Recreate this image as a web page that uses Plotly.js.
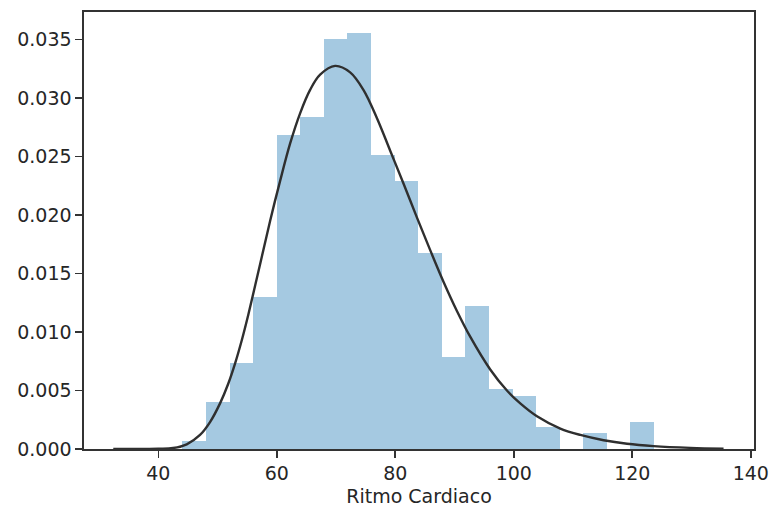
<!DOCTYPE html>
<html>
<head>
<meta charset="utf-8">
<script src="https://cdn.plot.ly/plotly-3.0.1.min.js"></script>
<style>
  html, body { margin: 0; padding: 0; background: #ffffff; }
  #chart { width: 770px; height: 510px; }
</style>
</head>
<body>
<div id="chart"></div>
<script>
// Histogram (density) — left edges of bins and their heights
const binLeft = [44.07, 48.05, 52.03, 56.01, 59.99, 63.97, 67.95, 71.93, 75.91, 79.89,
                 83.87, 87.85, 91.83, 95.81, 99.79, 103.77, 107.75, 111.73, 115.71, 119.69];
const binWidth = 3.98;
const density = [0.0007, 0.00404, 0.00732, 0.01296, 0.02683, 0.02836, 0.03503, 0.03554, 0.02512, 0.02290,
                 0.01672, 0.00783, 0.01224, 0.00510, 0.00455, 0.00185, 0.0, 0.00134, 0.0, 0.00233];

// Fitted density curve
const fitX = [32.4, 40.0, 42.5, 44.8, 47.04, 48.73, 50.42, 51.82, 52.95, 54.09, 55.2, 57.18, 58.87, 60.55,
              62.24, 63.93, 65.62, 67.31, 69.84, 72.38, 74.62, 76.89, 79.14, 81.38, 83.64, 85.89,
              88.13, 90.4, 92.64, 96.02, 98.84, 101.09, 103.91, 107.85, 111.23, 115.16, 119.11,
              123.6, 129.8, 135.4];
const fitY = [0.0, 0.00002, 0.00008, 0.0004, 0.0012, 0.0023, 0.0039, 0.0056, 0.0073, 0.0093, 0.0115,
              0.0158, 0.0195, 0.0229, 0.0261, 0.0287, 0.0307, 0.0320, 0.03275, 0.0322, 0.0307,
              0.0283, 0.0255, 0.0227, 0.0198, 0.0170, 0.0143, 0.0118, 0.0096, 0.0068, 0.0050,
              0.0039, 0.0028, 0.00175, 0.0012, 0.00075, 0.00045, 0.00025, 0.0001, 0.00003];

const xTicks = [40, 60, 80, 100, 120, 140];
const yTicks = [0, 0.005, 0.010, 0.015, 0.020, 0.025, 0.030, 0.035];
const xLabel = "Ritmo Cardiaco";

const barTrace = {
  type: 'bar',
  x: binLeft,
  y: density,
  width: binLeft.map(() => binWidth),
  offset: 0,
  marker: { color: 'rgba(31,119,180,0.4)', line: { width: 0 } },
  hoverinfo: 'x+y'
};

const fitTrace = {
  type: 'scatter',
  mode: 'lines',
  x: fitX,
  y: fitY,
  line: { color: '#2f2f2f', width: 2.4, shape: 'spline', smoothing: 1.0 },
  hoverinfo: 'x+y'
};

const font = { family: 'DejaVu Sans, sans-serif', size: 19, color: '#262626' };

const layout = {
  width: 770,
  height: 510,
  margin: { l: 84, r: 16, t: 12, b: 61 },
  paper_bgcolor: '#ffffff',
  plot_bgcolor: '#ffffff',
  showlegend: false,
  bargap: 0,
  font: font,
  xaxis: {
    range: [27.46, 140.54],
    tickmode: 'array',
    tickvals: xTicks,
    ticktext: xTicks.map(String),
    ticks: 'outside',
    ticklen: 7,
    tickwidth: 1.6,
    tickcolor: '#333333',
    showline: true,
    linecolor: '#333333',
    linewidth: 1.6,
    mirror: true,
    showgrid: false,
    zeroline: false,
    tickfont: font,
    title: { text: xLabel, font: font, standoff: 6 }
  },
  yaxis: {
    range: [0, 0.03736],
    tickmode: 'array',
    tickvals: yTicks,
    ticktext: yTicks.map(v => v.toFixed(3)),
    ticks: 'outside',
    ticklen: 7,
    tickwidth: 1.6,
    tickcolor: '#333333',
    showline: true,
    linecolor: '#333333',
    linewidth: 1.6,
    mirror: true,
    showgrid: false,
    zeroline: false,
    tickfont: font
  }
};

Plotly.newPlot('chart', [barTrace, fitTrace], layout, { displayModeBar: false, staticPlot: true });
</script>
</body>
</html>
